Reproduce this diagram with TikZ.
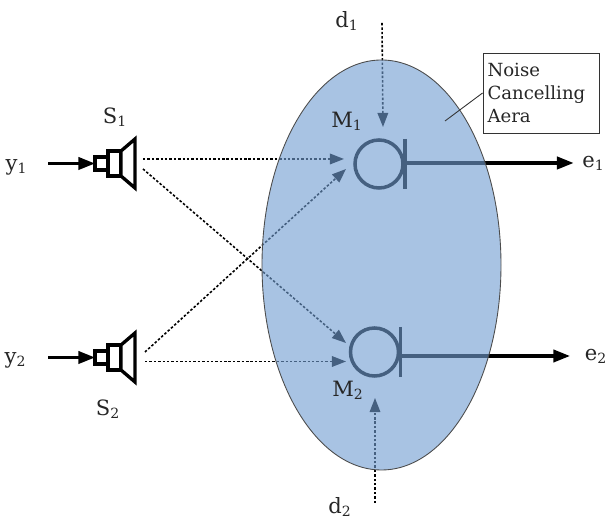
\documentclass[tikz,border=0pt]{standalone}
\usepackage{fontspec}
\setmainfont{DejaVu Serif}
\usetikzlibrary{arrows.meta, positioning, shapes.geometric}
\definecolor{careafill}{RGB}{113,157,210}
\definecolor{ctext}{HTML}{262626}
\tikzset{
  every picture/.style={line width=0.9pt},
  area/.style={draw=black!70, line width=0.5pt, fill=careafill, fill opacity=0.61, draw opacity=1, ellipse, minimum width=4.78cm, minimum height=8.2cm, inner sep=0pt},
  mic/.style={draw=black, circle, line width=2pt, minimum size=0.96cm, inner sep=0pt},
  solidarrow/.style={-{Triangle[length=9.5pt,width=7pt]}, line width=1.8pt},
  dasharrow/.style={-{Triangle[length=8pt,width=6pt]}, line width=0.9pt, dash pattern=on 1.4pt off 1.1pt},
  label/.style={font=\fontsize{12}{14}\selectfont, text=ctext, inner sep=0pt},
  note/.style={draw=black!80, line width=0.5pt, font=\fontsize{10.3}{13}\selectfont, text=ctext, align=left, inner sep=0pt, minimum width=2.32cm, minimum height=1.6cm, text width=2.14cm},
  speaker/.pic={
    \draw[line width=1.9pt, fill=white] (-0.8,-0.13) rectangle (-0.54,0.13);
    \draw[line width=1.9pt, fill=white] (-0.54,-0.25) rectangle (-0.28,0.25);
    \draw[line width=1.9pt, line join=miter, fill=white] (-0.28,0.25) -- (0,0.49) -- (0,-0.49) -- (-0.28,-0.25) -- cycle;
  },
}
\begin{document}
\begin{tikzpicture}
  \useasboundingbox (0,0) rectangle (12.12,10.4);
  % labels
  \node[label] (y1) at (0.33,7.06) {y\textsubscript{1}};
  \node[label] (y2) at (0.31,3.20) {y\textsubscript{2}};
  \node[label] (S1) at (2.30,8.06) {S\textsubscript{1}};
  \node[label] (S2) at (2.16,2.22) {S\textsubscript{2}};
  \node[label] (d1) at (6.94,9.98) {d\textsubscript{1}};
  \node[label] (d2) at (6.80,0.26) {d\textsubscript{2}};
  \node[label, anchor=east] (e1) at (12.11,7.14) {e\textsubscript{1}};
  \node[label, anchor=west] (e2) at (11.68,3.28) {e\textsubscript{2}};
  % speakers
  \pic at (2.70,7.13) {speaker};
  \pic at (2.70,3.25) {speaker};
  \coordinate (s1in) at (1.90,7.13);
  \coordinate (s2in) at (1.90,3.25);
  \coordinate (y1out) at (0.96,7.13);
  \coordinate (y2out) at (0.96,3.25);
  \draw[solidarrow] (y1out) -- (s1in);
  \draw[solidarrow] (y2out) -- (s2in);
  % microphones
  \node[mic] (m1) at (7.58,7.12) {};
  \node[mic] (m2) at (7.49,3.36) {};
  \draw[line width=2pt] ([yshift=0.5cm]m1.east) -- ([yshift=-0.5cm]m1.east);
  \draw[line width=2pt] ([yshift=0.5cm]m2.east) -- ([yshift=-0.5cm]m2.east);
  \coordinate (m1out) at (m1.east |- e1.west);
  \coordinate (m2out) at (m2.east |- e2.west);
  \draw[solidarrow] (m1out) -- ([xshift=-0.16cm]e1.west);
  \draw[solidarrow] (m2out) -- ([xshift=-0.28cm]e2.west);
  % acoustic paths
  \coordinate (s1a) at (2.86,7.22);
  \coordinate (s1b) at (2.86,7.02);
  \coordinate (s2a) at (2.90,3.36);
  \coordinate (s2b) at (2.90,3.17);
  \coordinate (m1a) at (6.88,7.22);
  \coordinate (m1b) at (6.92,7.02);
  \coordinate (m2a) at (6.92,3.54);
  \coordinate (m2b) at (6.92,3.17);
  \coordinate (d1in) at (7.64,9.94);
  \coordinate (m1top) at (7.66,7.86);
  \coordinate (d2in) at (7.50,0.34);
  \coordinate (m2low) at (7.50,2.44);
  \draw[dasharrow] (s1a) -- (m1a);
  \draw[dasharrow] (s1b) -- (m2a);
  \draw[dasharrow] (s2a) -- (m1b);
  \draw[dasharrow] (s2b) -- (m2b);
  \draw[dasharrow] (d1in) -- (m1top);
  \draw[dasharrow] (d2in) -- (m2low);
  % cancelling area goes over the lines
  \node[area] (area) at (7.63,5.10) {};
  \node[label] (M1) at (6.94,7.98) {M\textsubscript{1}};
  \node[label] (M2) at (6.96,2.60) {M\textsubscript{2}};
  \node[note] (box) at (10.82,8.54) {Noise\\Cancelling\\Aera};
  \coordinate (areapt) at (8.90,7.98);
  \draw[line width=0.5pt, draw=black!80] (box.west) -- (areapt);
\end{tikzpicture}
\end{document}
